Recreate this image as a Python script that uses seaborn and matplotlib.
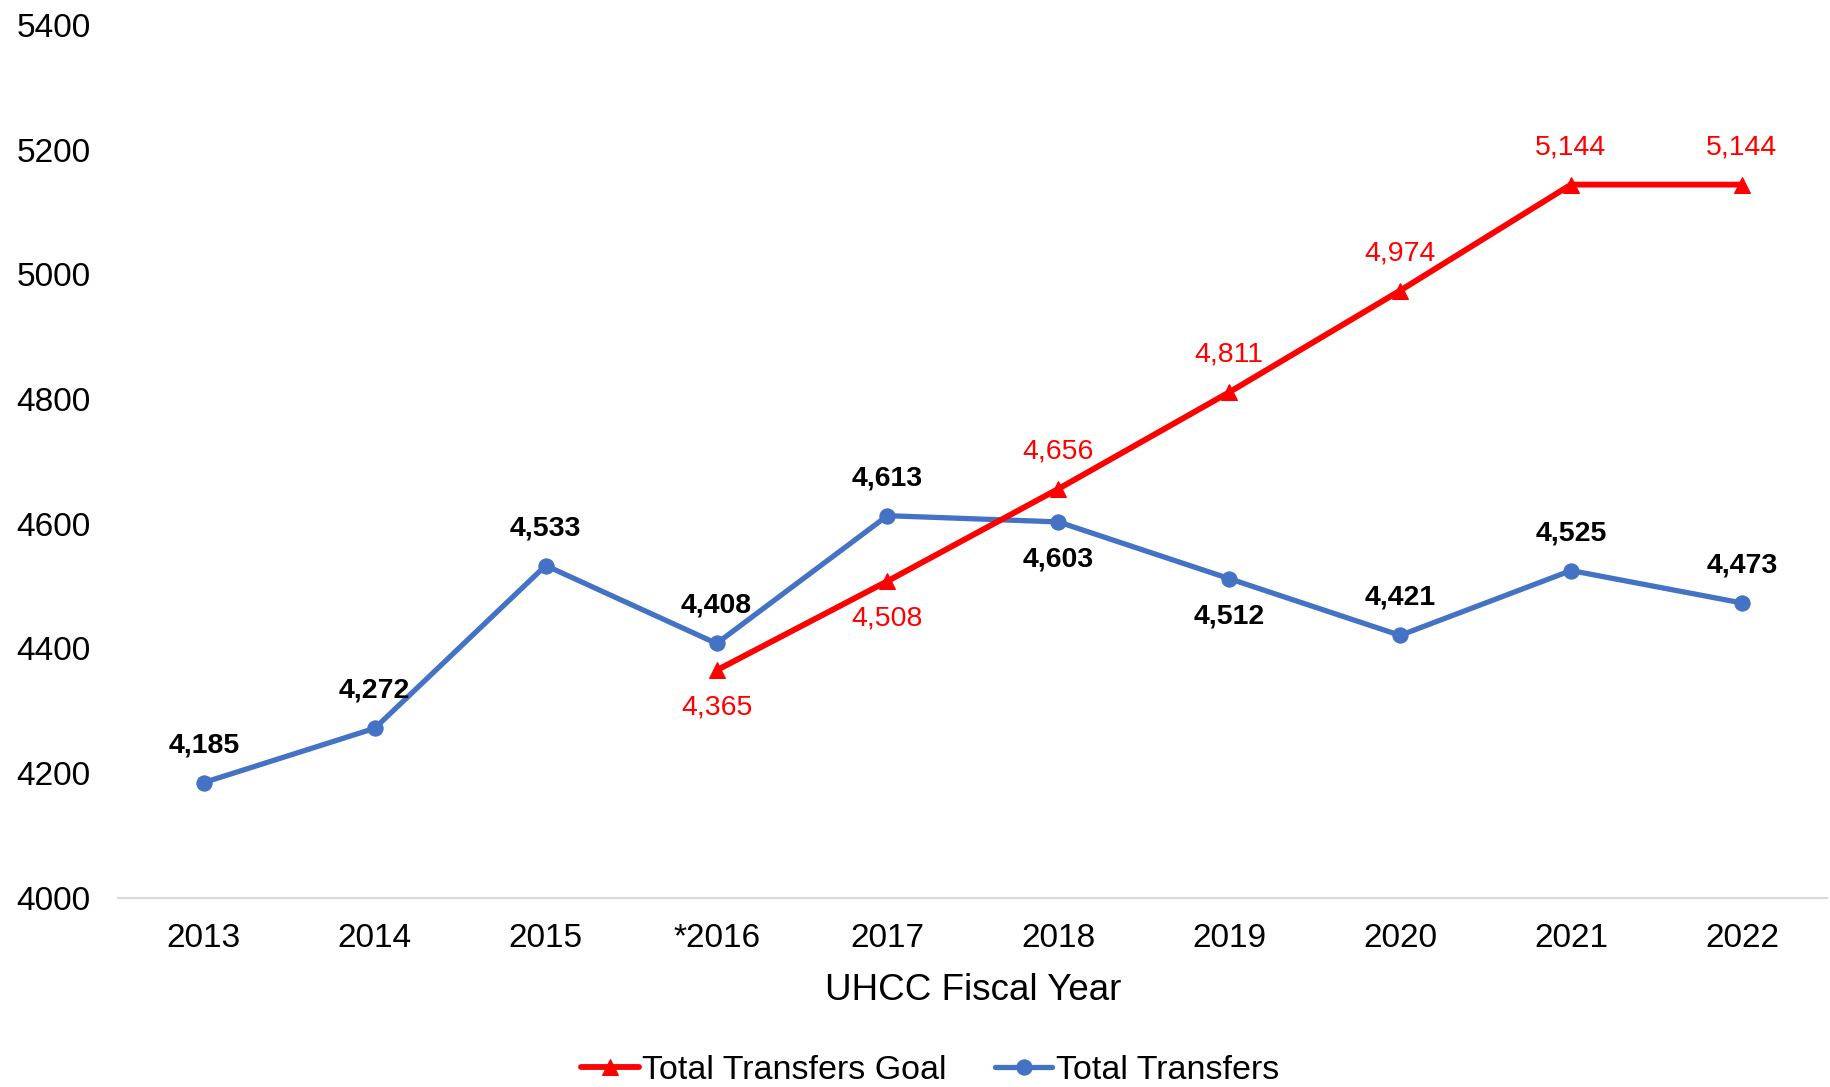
import matplotlib
matplotlib.use("Agg")
import matplotlib.pyplot as plt
import seaborn as sns
import pandas as pd

years = ["2013", "2014", "2015", "*2016", "2017", "2018", "2019", "2020", "2021", "2022"]
transfers = [4185, 4272, 4533, 4408, 4613, 4603, 4512, 4421, 4525, 4473]
goal_years = ["*2016", "2017", "2018", "2019", "2020", "2021", "2022"]
goal = [4365, 4508, 4656, 4811, 4974, 5144, 5144]
# label placement: +1 above the point, -1 below
transfer_label_side = [1, 1, 1, 1, 1, -1, -1, 1, 1, 1]
goal_label_side = [-1, -1, 1, 1, 1, 1, 1]

RED = "#FF0000"
BLUE = "#4472C4"

sns.set_theme(style="white")
plt.rcParams['font.family'] = ['Liberation Sans', 'DejaVu Sans']
plt.rcParams['text.color'] = 'black'

df_t = pd.DataFrame({"year": years, "value": transfers})
df_g = pd.DataFrame({"year": goal_years, "value": goal})

fig = plt.figure(figsize=(18.31, 10.87), dpi=100)
ax = fig.add_axes([0.0647, 0.174, 0.9333, 0.803])

sns.lineplot(data=df_t, x="year", y="value", ax=ax, color=BLUE, linewidth=3.8,
             marker="o", markersize=11, markeredgecolor=BLUE, label="Total Transfers", sort=False)
sns.lineplot(data=df_g, x="year", y="value", ax=ax, color=RED, linewidth=4.2,
             marker="^", markersize=12, markeredgecolor=RED, label="Total Transfers Goal", sort=False)

pos = {y: i for i, y in enumerate(years)}
for y, v, s in zip(years, transfers, transfer_label_side):
    ax.annotate(f"{v:,}", (pos[y], v), xytext=(0, 27 * s), textcoords="offset points",
                ha="center", va="center", fontsize=20.5, fontweight="bold", color="black")
for y, v, s in zip(goal_years, goal, goal_label_side):
    ax.annotate(f"{v:,}", (pos[y], v), xytext=(0, 27 * s), textcoords="offset points",
                ha="center", va="center", fontsize=20.5, color=RED)

ax.set_xlim(-0.5, 9.5)
ax.set_ylim(4000, 5400)
ax.set_yticks(range(4000, 5401, 200))
ax.tick_params(axis="both", length=0, labelsize=24, colors="black")
ax.tick_params(axis="x", pad=18)
ax.tick_params(axis="y", pad=20)
ax.set_ylabel("")
ax.set_xlabel("UHCC Fiscal Year", fontsize=26.5, labelpad=14, color="black")
for side in ["left", "top", "right"]:
    ax.spines[side].set_visible(False)
ax.spines["bottom"].set_color("#D9D9D9")
ax.spines["bottom"].set_linewidth(1.5)
ax.grid(False)

handles, labels = ax.get_legend_handles_labels()
leg = ax.legend(handles[::-1], labels[::-1], loc="center", bbox_to_anchor=(0.508, 0.015),
                bbox_transform=fig.transFigure, ncol=2, frameon=False, fontsize=24.5,
                handlelength=1.7, handletextpad=0.1, columnspacing=1.4)
for t in leg.get_texts():
    t.set_color("black")

fig.savefig("out.png", dpi=100)
